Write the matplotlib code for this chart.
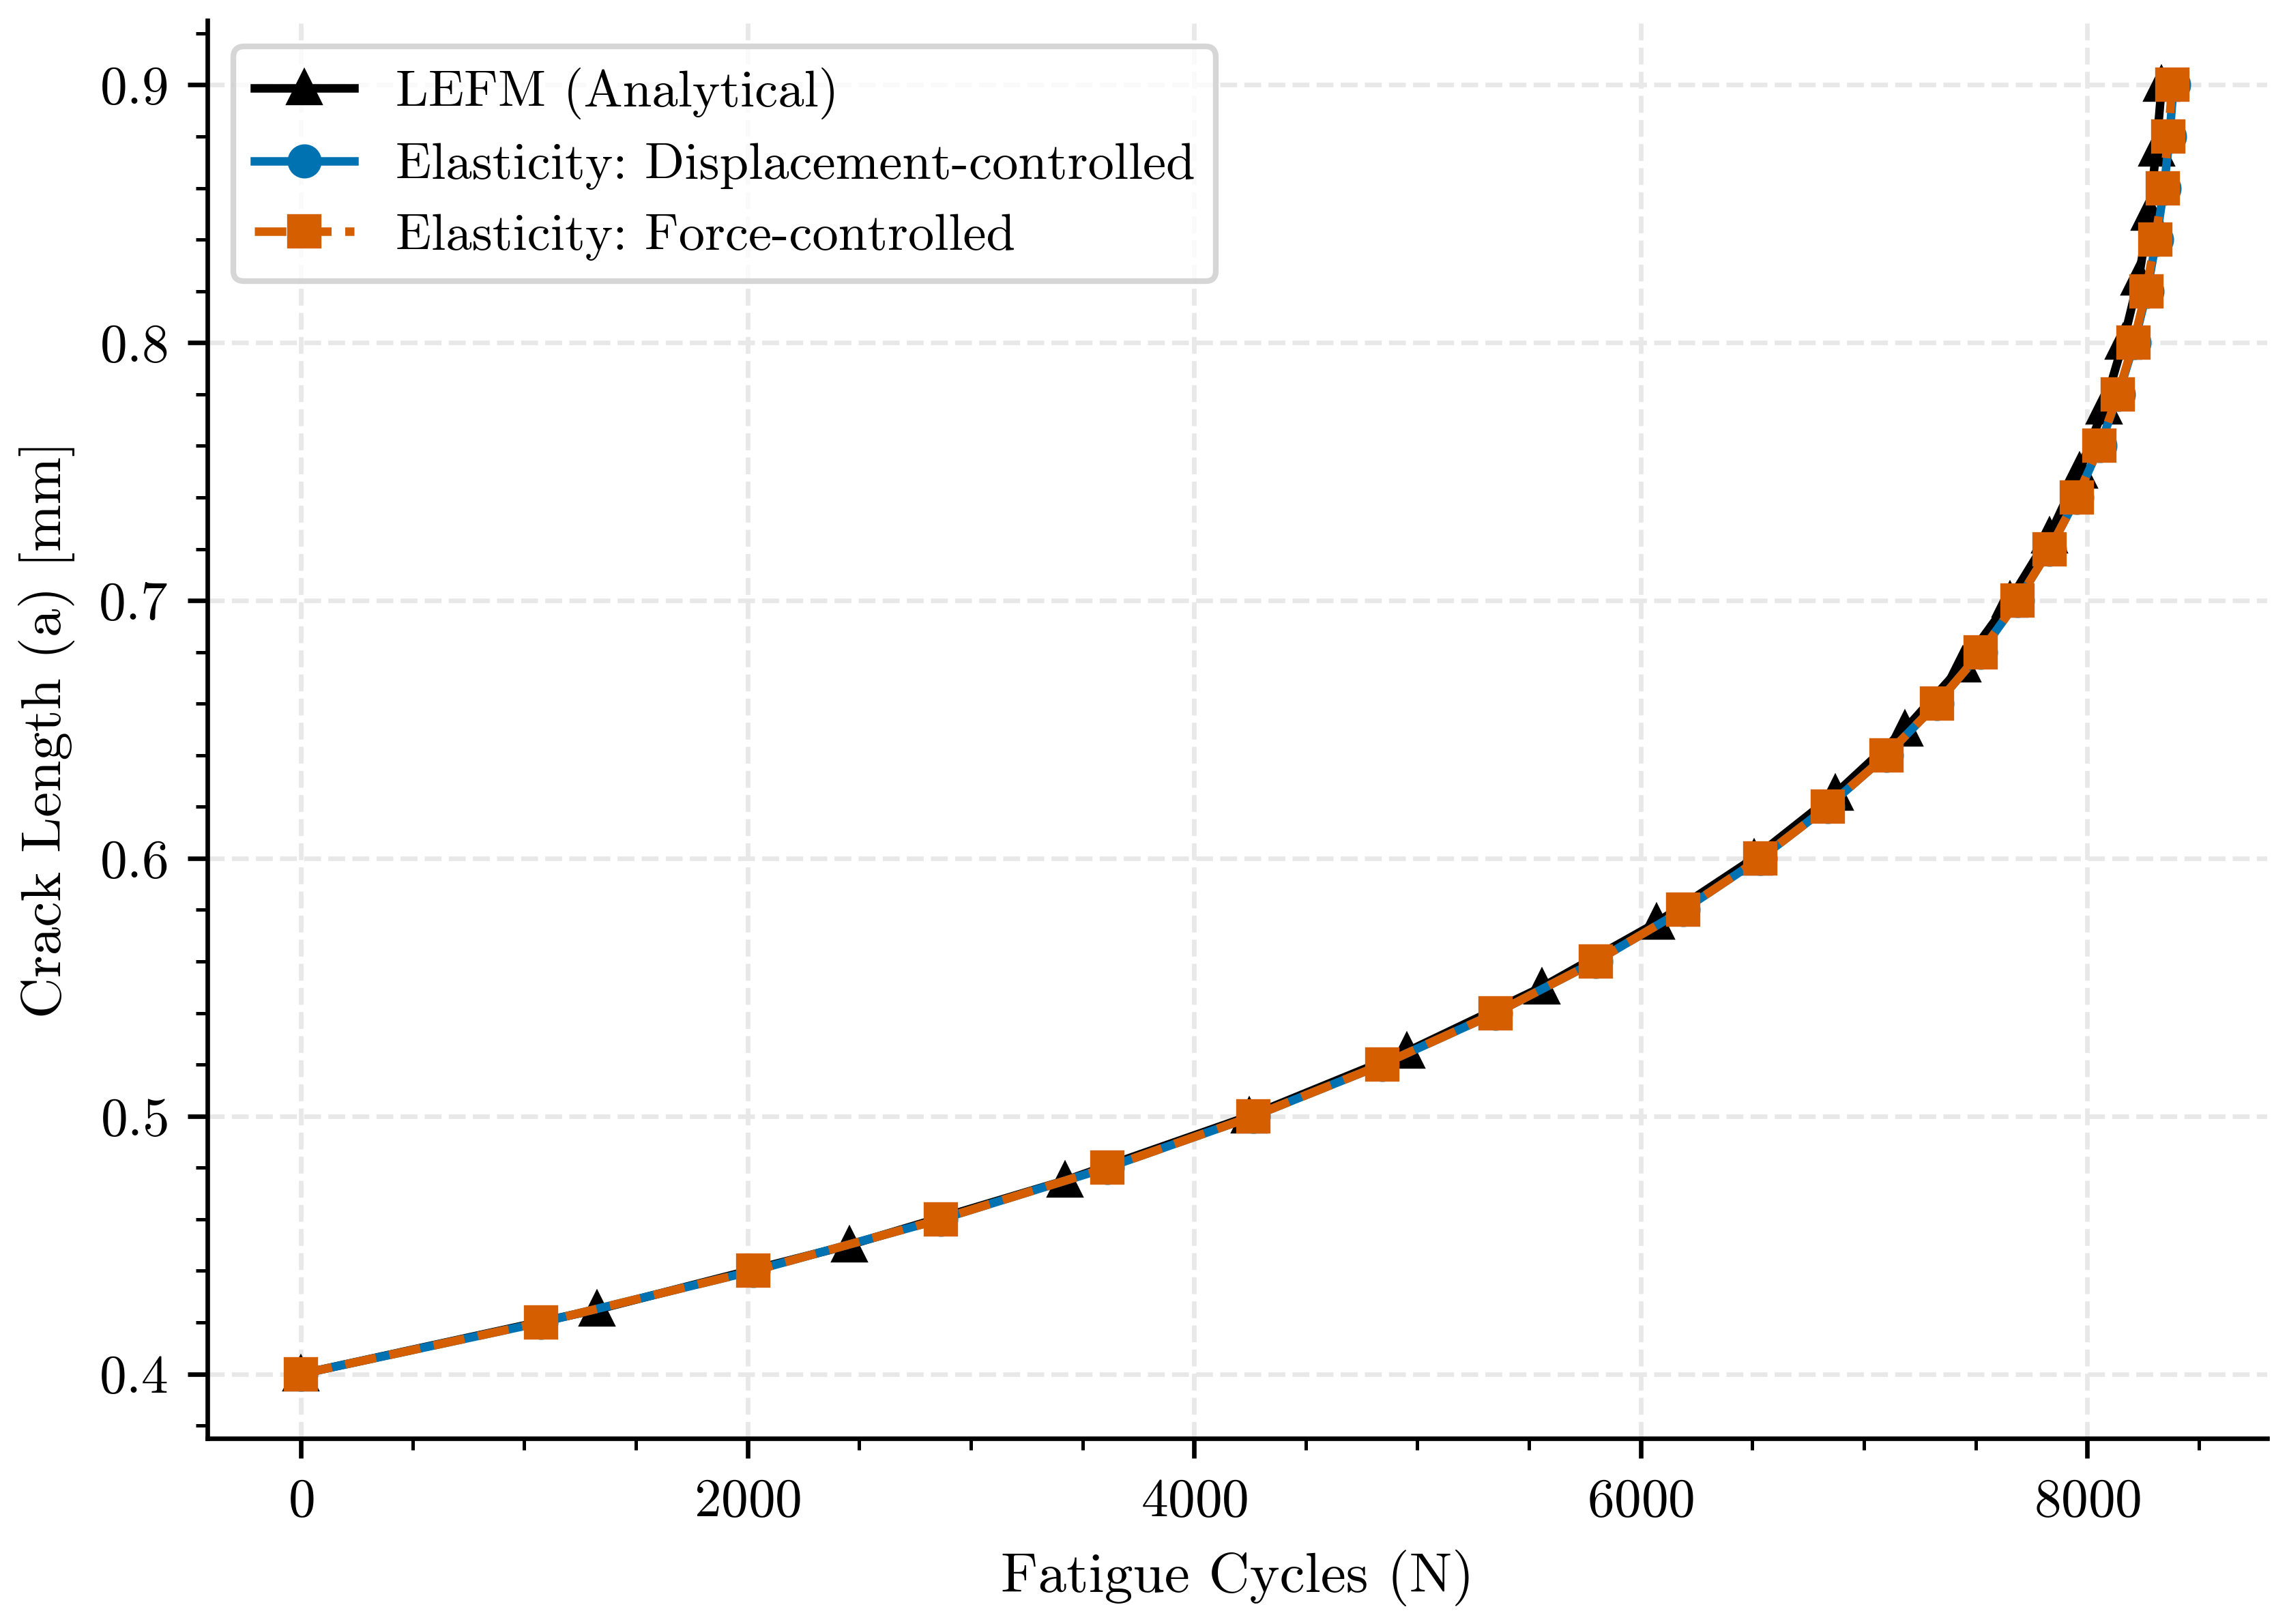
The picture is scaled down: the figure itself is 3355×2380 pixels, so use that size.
import matplotlib
matplotlib.use("Agg")
import matplotlib.pyplot as plt
from matplotlib.ticker import MultipleLocator

plt.rcParams['font.family'] = 'serif'
plt.rcParams['font.serif'] = ['cmr10']
plt.rcParams['mathtext.fontset'] = 'cm'
plt.rcParams['axes.formatter.use_mathtext'] = True
plt.rcParams['font.size'] = 9.5

# LEFM analytical
lefm_a = [0.400, 0.425, 0.450, 0.475, 0.500, 0.525, 0.550, 0.575, 0.600, 0.625,
          0.650, 0.675, 0.700, 0.725, 0.750, 0.775, 0.800, 0.825, 0.850, 0.875, 0.900]
lefm_N = [0, 1326, 2455, 3421, 4247, 4953, 5557, 6071, 6507, 6872,
          7184, 7443, 7653, 7830, 7965, 8076, 8161, 8231, 8278, 8310, 8334]

# Elasticity simulations
elas_a = [0.40, 0.42, 0.44, 0.46, 0.48, 0.50, 0.52, 0.54, 0.56, 0.58, 0.60, 0.62, 0.64,
          0.66, 0.68, 0.70, 0.72, 0.74, 0.76, 0.78, 0.80, 0.82, 0.84, 0.86, 0.88, 0.90]
disp_N = [0, 1076, 2026, 2865, 3610, 4266, 4842, 5351, 5798, 6191, 6536, 6837, 7101,
          7327, 7524, 7689, 7832, 7954, 8057, 8140, 8211, 8268, 8310, 8344, 8369, 8387]
force_N = [0, 1076, 2026, 2865, 3610, 4266, 4842, 5351, 5798, 6191, 6536, 6837, 7101,
           7327, 7524, 7689, 7832, 7954, 8056, 8138, 8208, 8264, 8305, 8339, 8363, 8381]

fig = plt.figure(figsize=(3355/600, 2380/600), dpi=600)
ax = fig.add_axes([304/3355, 1-2108/2380, (3323-304)/3355, (2108-30)/2380])

ax.plot(lefm_N, lefm_a, color='black', marker='^', markersize=5, lw=1.5,
        label='LEFM (Analytical)')
ax.plot(disp_N, elas_a, color='#0072B2', marker='o', markersize=5, lw=1.5,
        label='Elasticity: Displacement-controlled')
ax.plot(force_N, elas_a, color='#D55E00', marker='s', markersize=5, lw=1.5,
        linestyle='--', label='Elasticity: Force-controlled')

ax.set_xlabel('Fatigue Cycles (N)', fontsize=10)
ax.set_ylabel('Crack Length (a) [mm]', fontsize=10)

ax.xaxis.set_major_locator(MultipleLocator(2000))
ax.xaxis.set_minor_locator(MultipleLocator(500))
ax.yaxis.set_major_locator(MultipleLocator(0.1))
ax.yaxis.set_minor_locator(MultipleLocator(0.02))
ax.tick_params(which='both', direction='out')

ax.grid(True, which='major', linestyle='--', linewidth=0.8, color='#e8e8e8')
ax.set_axisbelow(True)
ax.spines['top'].set_visible(False)
ax.spines['right'].set_visible(False)

ax.legend(loc='upper left', frameon=True, fancybox=True, fontsize=9.2,
          labelspacing=0.44, handlelength=1.9)

fig.savefig('out.png', dpi=600)
